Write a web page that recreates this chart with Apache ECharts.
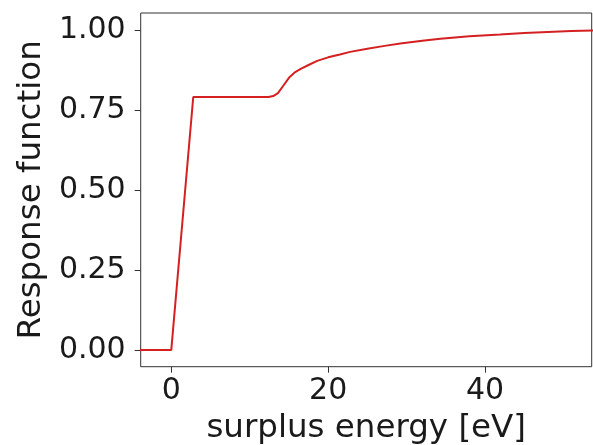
<!DOCTYPE html>
<html><head><meta charset="utf-8">
<script src="https://cdn.jsdelivr.net/npm/echarts@6/dist/echarts.min.js"></script>
<style>html,body{margin:0;padding:0;background:#fff;}#c{width:593px;height:445px;}</style>
</head><body><div id="c"></div>
<script>
const energy = [-4, 0, 2.8, 12.4, 13.0, 13.6, 14.3, 15.0, 15.8, 16.5, 17.5, 18.6, 20.0, 21.5, 22.8, 25.0, 27.0, 29.2, 32.0, 34.3, 38.0, 41.9, 45.0, 48.0, 51.0, 54.0];
const response = [0, 0, 0.79, 0.79, 0.793, 0.802, 0.826, 0.85, 0.868, 0.878, 0.890, 0.903, 0.914, 0.923, 0.931, 0.941, 0.949, 0.957, 0.966, 0.972, 0.980, 0.985, 0.990, 0.993, 0.996, 0.998];
const xTicks = [0, 20, 40];
const yTicks = [0, 0.25, 0.5, 0.75, 1.0];
const font = 'DejaVu Sans';
const chart = echarts.init(document.getElementById('c'));
chart.setOption({
  animation: false,
  backgroundColor: '#fff',
  grid: {left: 140.7, right: 1.3, top: 13, bottom: 78.3, outerBoundsMode: 'none', containLabel: false,
    show: true, borderColor: '#333', borderWidth: 1, backgroundColor: '#fff'},
  xAxis: {
    type: 'value', min: -3.9, max: 53.6,
    name: 'surplus energy [eV]', nameLocation: 'middle', nameGap: 43,
    nameTextStyle: {fontFamily: font, fontSize: 32.5, color: '#1a1a1a'},
    axisLine: {show: false, onZero: false}, splitLine: {show: false},
    axisTick: {show: true, length: 6, customValues: xTicks, lineStyle: {color: '#333'}},
    axisLabel: {customValues: xTicks, margin: 10, fontFamily: font, fontSize: 30, color: '#1a1a1a'}
  },
  yAxis: {
    type: 'value', min: -0.0525, max: 1.0525,
    name: 'Response function', nameLocation: 'middle', nameGap: 93,
    nameTextStyle: {fontFamily: font, fontSize: 32.5, color: '#1a1a1a'},
    axisLine: {show: false, onZero: false}, splitLine: {show: false},
    axisTick: {show: true, length: 6, customValues: yTicks, lineStyle: {color: '#333'}},
    axisLabel: {customValues: yTicks, margin: 15, fontFamily: font, fontSize: 30, color: '#1a1a1a',
      formatter: v => v.toFixed(2)}
  },
  series: [{
    type: 'line', data: energy.map((x, i) => [x, response[i]]),
    showSymbol: false, smooth: false, clip: true,
    lineStyle: {color: '#d42020', width: 2}
  }]
});
</script></body></html>
